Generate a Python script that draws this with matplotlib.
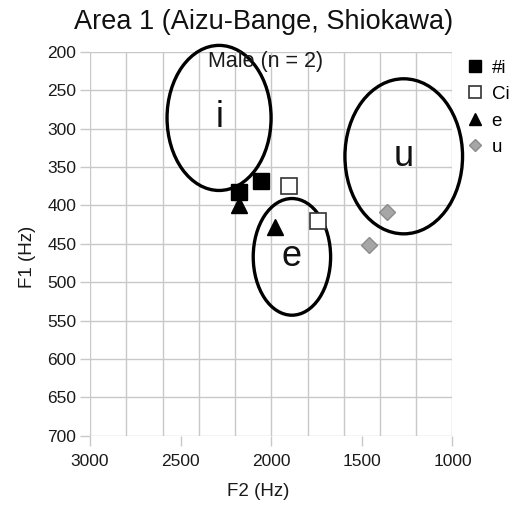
import matplotlib
matplotlib.use("Agg")
import matplotlib.pyplot as plt
from matplotlib.patches import Ellipse
from matplotlib.ticker import MultipleLocator

plt.rcParams['font.family'] = ['Liberation Sans', 'DejaVu Sans']

# Formant measurements (F2, F1) in Hz
hash_i_f2 = [2180, 2055]
hash_i_f1 = [382, 368]
ci_f2 = [1902, 1742]
ci_f1 = [375, 420]
e_f2 = [2178, 1980]
e_f1 = [400, 428]
u_f2 = [1364, 1463]
u_f1 = [408, 451]

# Reference vowel regions: label, centre F2, centre F1, width (F2), height (F1)
region_labels = ['i', 'e', 'u']
region_f2 = [2288, 1886, 1269]
region_f1 = [286, 467, 336]
region_w = [574, 427, 649]
region_h = [189, 152, 202]

fig = plt.figure(figsize=(5.28, 5.09), dpi=100)
ax = fig.add_axes([0.1705, 0.144, 0.6865, 0.754])

ax.set_xlim(3000, 1000)
ax.set_ylim(700, 200)
ax.xaxis.set_major_locator(MultipleLocator(500))
ax.xaxis.set_minor_locator(MultipleLocator(200))
ax.yaxis.set_major_locator(MultipleLocator(50))

grid_col = '#c8c8c8'
ax.grid(False)
for x in range(1000, 3001, 200):
    ax.axvline(x, color=grid_col, lw=1.0, zorder=0)
for y in range(200, 701, 50):
    ax.axhline(y, color=grid_col, lw=1.0, zorder=0)
for s in ax.spines.values():
    s.set_visible(False)

ax.tick_params(axis='x', which='major', length=7, color=grid_col, width=1.0,
               labelsize=12.5, pad=6, direction='out', labelcolor='#1a1a1a')
ax.tick_params(axis='x', which='minor', length=0)
ax.tick_params(axis='y', which='major', length=7, color=grid_col, width=1.0,
               labelsize=12.5, pad=3, direction='out', labelcolor='#1a1a1a')

for lab, cx, cy, w, h in zip(region_labels, region_f2, region_f1, region_w, region_h):
    ax.add_patch(Ellipse((cx, cy), w, h, fill=False, ec='black', lw=2.4, zorder=3,
                         clip_on=False))
    ax.text(cx, cy, lab, fontsize=26, ha='center', va='center', color='#111111', zorder=4)

ax.plot(hash_i_f2, hash_i_f1, 's', ms=12, color='black', mec='black', ls='none', zorder=5, label='#i')
ax.plot(ci_f2, ci_f1, 's', ms=11, mfc='white', mec='#333333', mew=1.2, ls='none', zorder=5, label='Ci')
ax.plot(e_f2, e_f1, '^', ms=12, color='black', ls='none', zorder=5, label='e')
ax.plot(u_f2, u_f1, 'D', ms=8.5, mfc='#a6a6a6', mec='#8c8c8c', ls='none', zorder=5, label='u')

ax.text(0.485, 0.975, 'Male (n = 2)', transform=ax.transAxes, ha='center', va='center',
        fontsize=15.5, color='#1a1a1a', zorder=6)

fig.text(0.5, 0.957, 'Area 1 (Aizu-Bange, Shiokawa)', ha='center', va='center',
         fontsize=19.5, color='#111111')
ax.set_xlabel('F2 (Hz)', fontsize=13.5, color='#1a1a1a')
ax.set_ylabel('F1 (Hz)', fontsize=13.5, color='#1a1a1a')
ax.xaxis.set_label_coords(0.463, -0.123)
ax.yaxis.set_label_coords(-0.15, 0.465)

leg = ax.legend(loc='upper left', bbox_to_anchor=(1.02, 1.0), frameon=False, fontsize=13.5,
                handlelength=0.8, handletextpad=0.5, labelspacing=0.5, markerscale=0.75,
                borderaxespad=0.0)

fig.savefig('out.png', dpi=100)
